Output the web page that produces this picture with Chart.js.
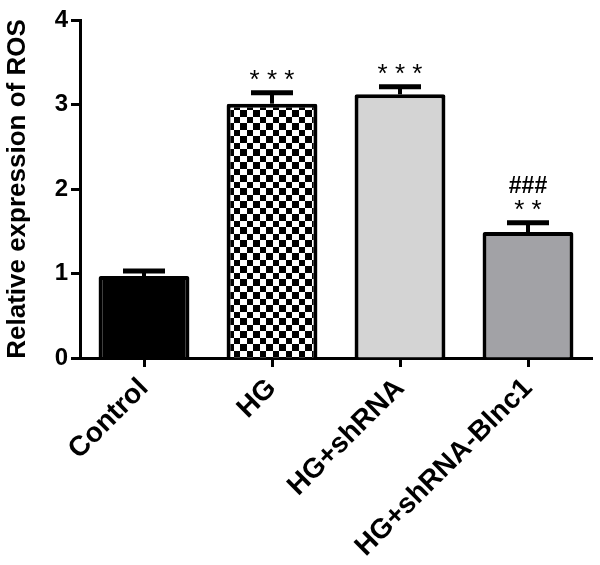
<html>
  <head>
    <script src="https://cdn.jsdelivr.net/npm/chart.js@4.4.0/dist/chart.umd.min.js"></script>
    <style>
      body { margin: 0; background: #fff; }
    </style>
  </head>
  <body>
    <canvas id="rosChart" width="600" height="565"></canvas>
    <script>
      var groups = ["Control", "HG", "HG+shRNA", "HG+shRNA-Blnc1"];
      var means = [0.97, 3.01, 3.12, 1.49];
      var sems = [0.06, 0.13, 0.09, 0.11];
      var stars = ["", "***", "***", "**"];
      var hashes = ["", "", "", "###"];
      var yTicks = [0, 1, 2, 3, 4];

      // checkerboard fill for the HG bar
      var pc = document.createElement("canvas");
      pc.width = 13;
      pc.height = 13;
      var pctx = pc.getContext("2d");
      pctx.fillStyle = "#fff";
      pctx.fillRect(0, 0, 13, 13);
      pctx.fillStyle = "#000";
      pctx.fillRect(0, 0, 6, 6);
      pctx.fillRect(6, 6, 7, 7);
      var ctx = document.getElementById("rosChart").getContext("2d");
      var checker = ctx.createPattern(pc, "repeat");

      var errorBars = {
        id: "errorBars",
        afterDatasetsDraw: function (chart) {
          var c = chart.ctx;
          var y = chart.scales.y;
          var meta = chart.getDatasetMeta(0);
          c.save();
          c.strokeStyle = "#000";
          c.fillStyle = "#000";
          c.textAlign = "center";
          c.textBaseline = "alphabetic";
          meta.data.forEach(function (bar, i) {
            var top = y.getPixelForValue(means[i] + sems[i]);
            var base = y.getPixelForValue(means[i]);
            c.lineWidth = 4;
            c.beginPath();
            c.moveTo(bar.x, base);
            c.lineTo(bar.x, top);
            c.stroke();
            c.lineWidth = 5;
            c.beginPath();
            c.moveTo(bar.x - 21, top);
            c.lineTo(bar.x + 21, top);
            c.stroke();
            c.font = "26px 'Liberation Sans', Arial";
            if (stars[i]) c.fillText(stars[i].split("").join(" "), bar.x, top - 5);
            c.font = "bold 23px 'Liberation Sans', Arial";
            if (hashes[i]) c.fillText(hashes[i], bar.x, top - 30);
          });
          c.restore();
        },
      };

      new Chart(ctx, {
        type: "bar",
        data: {
          labels: groups,
          datasets: [
            {
              data: means,
              backgroundColor: ["#000000", checker, "#d4d4d4", "#a2a2a6"],
              borderColor: "#000",
              borderWidth: 4,
              borderRadius: 2,
              borderSkipped: "bottom",
              barPercentage: 0.71,
              categoryPercentage: 1,
            },
          ],
        },
        plugins: [errorBars],
        options: {
          responsive: false,
          animation: false,
          layout: { padding: { top: 20, right: 8, left: 0, bottom: 0 } },
          plugins: { legend: { display: false }, tooltip: { enabled: false } },
          scales: {
            x: {
              afterFit: function (s) { s.height = 207; },
              border: { color: "#000", width: 3 },
              grid: {
                offset: false,
                drawOnChartArea: false,
                tickLength: 9,
                tickColor: "#000",
                tickWidth: 3,
              },
              ticks: {
                color: "#000",
                minRotation: 45,
                maxRotation: 45,
                padding: 5,
                font: { family: "'Liberation Sans', Arial", size: 28, weight: "bold" },
              },
            },
            y: {
              min: 0,
              max: 4,
              afterFit: function (s) { s.width = 80; },
              afterBuildTicks: function (s) {
                s.ticks = yTicks.map(function (v) { return { value: v }; });
              },
              border: { color: "#000", width: 3 },
              grid: {
                drawOnChartArea: false,
                tickLength: 9,
                tickColor: "#000",
                tickWidth: 3,
              },
              ticks: {
                color: "#000",
                padding: 3,
                font: { family: "'Liberation Sans', Arial", size: 24, weight: "bold" },
              },
              title: {
                display: true,
                text: "Relative expression of ROS",
                color: "#000",
                padding: { top: 2, bottom: 0 },
                font: { family: "'Liberation Sans', Arial", size: 26, weight: "bold" },
              },
            },
          },
        },
      });
    </script>
  </body>
</html>
